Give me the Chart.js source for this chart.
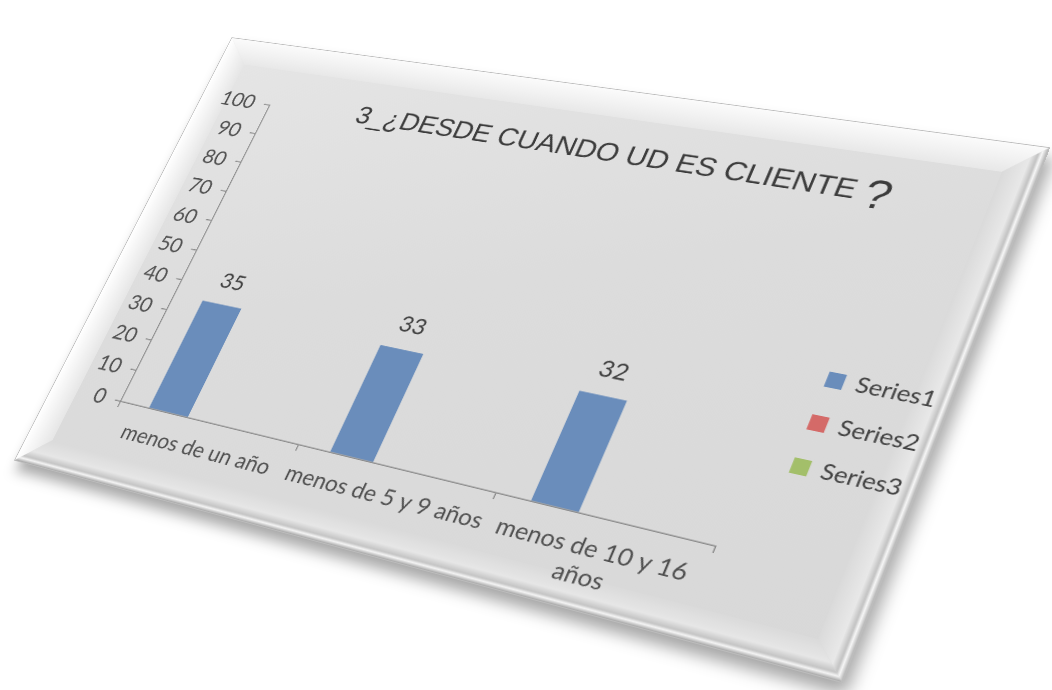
<!DOCTYPE html>
<html>
<head>
<meta charset="utf-8">
<title>3_¿DESDE CUANDO UD ES CLIENTE ?</title>
<script src="https://cdn.jsdelivr.net/npm/chart.js@4.4.1/dist/chart.umd.min.js"></script>
<style>
  html, body { margin: 0; width: 1052px; height: 690px; overflow: hidden; background: #fff; }
  #panel {
    position: absolute; left: 0; top: 0;
    width: 1000px; height: 620px;
    transform-origin: 0 0;
    background: linear-gradient(160deg, #e6e6e6 0%, #dcdcdc 45%, #d8d8d8 100%);
    box-shadow: 0 0 0 1px #bcbcbc, 8px 12px 16px rgba(0, 0, 0, 0.35);
  }
  .bevel { position: absolute; }
  .bevel.top {
    left: 0; top: 0; width: 100%; height: 36px;
    clip-path: polygon(0 0, 100% 0, calc(100% - 36px) 100%, 36px 100%);
    background: linear-gradient(to bottom, #fbfbfb, #e8e8e8);
  }
  .bevel.left {
    left: 0; top: 0; width: 36px; height: 100%;
    clip-path: polygon(0 0, 100% 36px, 100% calc(100% - 36px), 0 100%);
    background: linear-gradient(to right, #ffffff, #e6e6e6);
  }
  .bevel.right {
    right: 0; top: 0; width: 36px; height: 100%;
    clip-path: polygon(0 36px, 100% 0, 100% 100%, 0 calc(100% - 36px));
    background: linear-gradient(to right, #dadada 0%, #e8e8e8 60%, #c2c2c2 78%, #f7f7f7 87%, #b5b5b5 100%);
  }
  .bevel.bottom {
    left: 0; bottom: 0; width: 100%; height: 36px;
    clip-path: polygon(36px 0, calc(100% - 36px) 0, 100% 100%, 0 100%);
    background: linear-gradient(to bottom, #dadada 0%, #e6e6e6 55%, #c4c4c4 78%, #f5f5f5 87%, #a6a6a6 100%);
  }
  #chart { position: absolute; left: 0; top: 0; }
</style>
</head>
<body>
<div id="panel">
  <div class="bevel top"></div>
  <div class="bevel left"></div>
  <div class="bevel right"></div>
  <div class="bevel bottom"></div>
  <canvas id="chart" width="1000" height="620"></canvas>
</div>
<script>
// chart data
const categories = ['menos de un año', 'menos de 5 y 9 años', ['menos de 10 y 16', 'años']];
const seriesNames = ['Series1', 'Series2', 'Series3'];
const series1 = [35, 33, 32];
const series2 = [null, null, null];
const series3 = [null, null, null];
const yMin = 0, yMax = 100, yStep = 10;

const titleText = '3_¿DESDE CUANDO UD ES CLIENTE ';
const titleMark = '?';

// corners of the tilted card on the page: top-left, top-right, bottom-right, bottom-left
const cardCorners = [[232, 38], [1049, 148], [842, 682], [15, 460]];

// projective transform that maps the w x h card onto the four corners
function quadTransform(w, h, q) {
    const [x0, y0] = q[0], [x1, y1] = q[1], [x2, y2] = q[2], [x3, y3] = q[3];
    const dx1 = x1 - x2, dx2 = x3 - x2, dy1 = y1 - y2, dy2 = y3 - y2;
    const sx = x0 - x1 + x2 - x3, sy = y0 - y1 + y2 - y3;
    const det = dx1 * dy2 - dx2 * dy1;
    const g = (sx * dy2 - dx2 * sy) / det;
    const k = (dx1 * sy - sx * dy1) / det;
    const a = x1 - x0 + g * x1, b = x3 - x0 + k * x3;
    const d = y1 - y0 + g * y1, e = y3 - y0 + k * y3;
    return 'matrix3d(' + [a / w, d / w, 0, g / w, b / h, e / h, 0, k / h, 0, 0, 1, 0, x0, y0, 0, 1].join(',') + ')';
}

const panel = document.getElementById('panel');
panel.style.transform = quadTransform(1000, 620, cardCorners);

// title drawn over the plot, with the larger question mark
const titlePlugin = {
    id: 'cardTitle',
    afterDraw(chart, args, opts) {
        const ctx = chart.ctx;
        ctx.save();
        ctx.fillStyle = opts.color;
        ctx.textBaseline = 'alphabetic';
        ctx.textAlign = 'left';
        ctx.font = opts.size + 'px ' + opts.family;
        ctx.fillText(titleText, opts.x, opts.y);
        const w = ctx.measureText(titleText).width;
        ctx.font = opts.markSize + 'px ' + opts.family;
        ctx.fillText(titleMark, opts.x + w, opts.y + opts.markDrop);
        ctx.restore();
    }
};

// value labels above each bar
const valueLabels = {
    id: 'valueLabels',
    afterDatasetsDraw(chart) {
        const ctx = chart.ctx;
        ctx.save();
        ctx.font = '28px Lato';
        ctx.fillStyle = '#404040';
        ctx.textAlign = 'center';
        ctx.textBaseline = 'alphabetic';
        chart.data.datasets.forEach(function(ds, i) {
            chart.getDatasetMeta(i).data.forEach(function(bar, j) {
                const v = ds.data[j];
                if (v === null || v === undefined) return;
                ctx.fillText(String(v), bar.x, bar.y - 22);
            });
        });
        ctx.restore();
    }
};

const axisColor = '#8c8c8c';
const tickColor = '#505050';

new Chart(document.getElementById('chart'), {
    type: 'bar',
    data: {
        labels: categories,
        datasets: [
            { label: seriesNames[0], data: series1, backgroundColor: '#6a8dbb', borderWidth: 0 },
            { label: seriesNames[1], data: series2, backgroundColor: '#d46a68', borderWidth: 0 },
            { label: seriesNames[2], data: series3, backgroundColor: '#a3bf6a', borderWidth: 0 }
        ]
    },
    options: {
        responsive: false,
        animation: false,
        devicePixelRatio: 2,
        datasets: {
            bar: { categoryPercentage: 0.667, barPercentage: 1 }
        },
        layout: { padding: { left: 14, right: 4, top: 88, bottom: -10 } },
        plugins: {
            legend: {
                position: 'right',
                labels: {
                    boxWidth: 18,
                    boxHeight: 18,
                    padding: 26,
                    color: '#404040',
                    font: { family: 'Lato', size: 25 }
                }
            },
            tooltip: { enabled: false },
            cardTitle: {
                x: 220, y: 94,
                size: 34.5, markSize: 50, markDrop: 8,
                family: '"Liberation Sans", Arial, sans-serif',
                color: '#3c3c3c'
            }
        },
        scales: {
            x: {
                grid: { drawOnChartArea: false, tickLength: 8, color: axisColor, lineWidth: 1.5 },
                border: { color: axisColor, width: 1.5 },
                ticks: {
                    color: tickColor,
                    font: { family: 'Lato', size: 27 },
                    padding: 12,
                    maxRotation: 0,
                    autoSkip: false
                },
                afterFit: function(scale) { scale.height = 115; }
            },
            y: {
                min: yMin,
                max: yMax,
                grid: { drawOnChartArea: false, tickLength: 8, color: axisColor, lineWidth: 1.5 },
                border: { color: axisColor, width: 1.5 },
                ticks: { stepSize: yStep, color: tickColor, font: { family: 'Lato', size: 28 }, padding: 14 }
            },
            // empty gap between the plot and the legend
            gap: {
                type: 'linear',
                position: 'right',
                grid: { display: false },
                border: { display: false },
                ticks: { display: false },
                afterFit: function(scale) { scale.width = 15; }
            }
        }
    },
    plugins: [titlePlugin, valueLabels]
});
</script>
</body>
</html>
